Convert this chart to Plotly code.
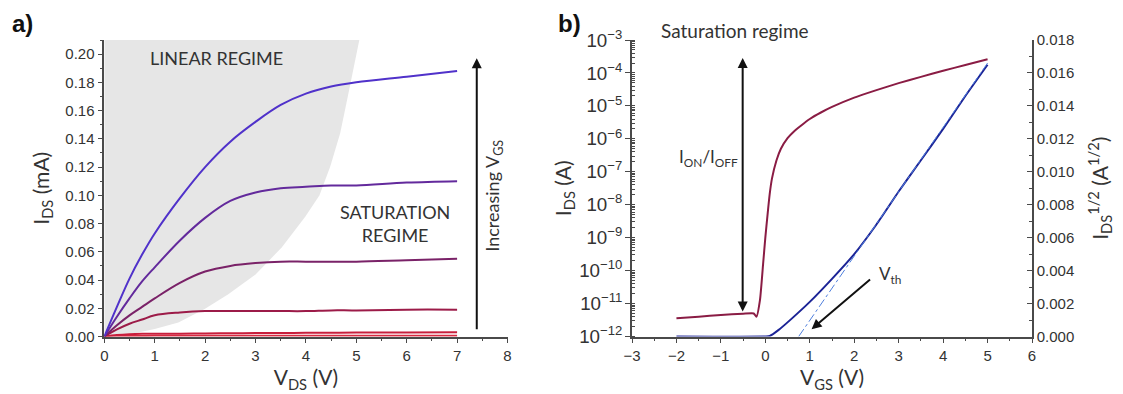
import plotly.graph_objects as go

# ---------------- Panel a: output characteristics ----------------
vds = [0, 0.25, 0.5, 0.75, 1.0, 1.5, 2.0, 2.5, 3.0, 3.5, 4.0, 4.5, 5.0, 6.0, 7.0]
ids_c1 = [0, 0.021, 0.041, 0.058, 0.073, 0.098, 0.120, 0.138, 0.152, 0.164, 0.172, 0.177, 0.180, 0.184, 0.188]
ids_c2 = [0, 0.014, 0.027, 0.039, 0.049, 0.068, 0.084, 0.096, 0.102, 0.105, 0.106, 0.107, 0.107, 0.109, 0.110]
ids_c3 = [0, 0.008, 0.015, 0.021, 0.027, 0.038, 0.046, 0.050, 0.052, 0.053, 0.053, 0.053, 0.053, 0.054, 0.055]
ids_c4 = [0, 0.005, 0.009, 0.012, 0.015, 0.017, 0.018, 0.018, 0.018, 0.018, 0.018, 0.0185, 0.0185, 0.019, 0.019]
ids_c5 = [0, 0.001, 0.0016, 0.0019, 0.002, 0.002, 0.0022, 0.0023, 0.0024, 0.0025, 0.0026, 0.0027, 0.0028, 0.0029, 0.003]
ids_c6 = [0, 0.0003, 0.0004, 0.0004, 0.0005, 0.0005, 0.0005, 0.0005, 0.0005, 0.0005, 0.0006, 0.0006, 0.0006, 0.0006, 0.0006]
curve_colors = ["#5032CA", "#632A9C", "#7A2268", "#9C1B48", "#C81E3C", "#D82A40"]

# boundary of the linear-regime region (VDS, IDS)
linear_edge_x = [0, 0.48, 1.0, 1.47, 2.0, 2.46, 3.0, 3.52, 3.99, 4.27, 4.48, 4.68, 4.82, 4.95, 5.06]
linear_edge_y = [0, 0.0014, 0.0054, 0.010, 0.0196, 0.030, 0.044, 0.063, 0.085, 0.10, 0.12, 0.144, 0.168, 0.19, 0.21]

# ---------------- Panel b: transfer characteristics ----------------
vgs_log = [-2.0, -1.5, -1.0, -0.5, -0.26, -0.2, -0.12, -0.05, 0.0, 0.05, 0.1, 0.15, 0.25, 0.35,
           0.5, 0.65, 0.8, 1.0, 1.25, 1.5, 2.0, 2.5, 3.0, 3.5, 4.0, 4.5, 5.0]
ids_log = [3.6e-12, 4.0e-12, 4.5e-12, 4.9e-12, 5.0e-12, 4.0e-12, 1.3e-11, 1.6e-10, 1.0e-9, 5.0e-9,
           2.2e-8, 6.3e-8, 2.2e-7, 5.0e-7, 1.05e-6, 1.7e-6, 2.5e-6, 4.0e-6, 6.3e-6, 9.3e-6,
           1.78e-5, 3.0e-5, 4.9e-5, 7.6e-5, 1.17e-4, 1.74e-4, 2.6e-4]

vgs_sqrt = [-2.0, 0.0, 0.1, 0.3, 0.6, 1.0, 1.5, 2.0, 2.5, 3.0, 3.5, 4.0, 4.5, 5.0]
ids_sqrt = [0, 0, 0.00003, 0.0004, 0.0011, 0.0021, 0.0035, 0.0050, 0.0068, 0.0088, 0.0107, 0.0126, 0.0146, 0.0165]

fit_vgs = [0.75, 5.0]
fit_sqrt = [0.0, 0.0166]

TICK_FONT = dict(family="Liberation Sans, Arial, sans-serif", size=15, color="#333333")
TITLE_FONT = dict(family="Lato, sans-serif", size=21, color="#333333")
TEXT_FONT = dict(family="Lato, sans-serif", size=17, color="#333333")
AXIS_COLOR = "#4a4a4a"

fig = go.Figure()

# shaded linear regime
fig.add_trace(go.Scatter(
    x=linear_edge_x + [0],
    y=linear_edge_y + [0.21],
    mode="lines", fill="toself", fillcolor="#E6E6E6",
    line=dict(width=0), hoverinfo="skip", xaxis="x", yaxis="y",
))

for ys, col in zip([ids_c6, ids_c5, ids_c4, ids_c3, ids_c2, ids_c1], curve_colors[::-1]):
    fig.add_trace(go.Scatter(x=vds, y=ys, mode="lines", line=dict(color=col, width=2, shape="spline"),
                             xaxis="x", yaxis="y"))

# transfer curves
fig.add_trace(go.Scatter(x=vgs_log, y=ids_log, mode="lines",
                         line=dict(color="#8A1C44", width=2, shape="spline", smoothing=0.5),
                         xaxis="x2", yaxis="y2"))
fig.add_trace(go.Scatter(x=vgs_sqrt, y=ids_sqrt, mode="lines",
                         line=dict(color="#1C2496", width=2, shape="spline", smoothing=0.6),
                         xaxis="x2", yaxis="y3"))
fig.add_trace(go.Scatter(x=fit_vgs, y=fit_sqrt, mode="lines",
                         line=dict(color="#4F7FDC", width=1, dash="dashdot"),
                         xaxis="x2", yaxis="y3"))

ya = [1 - 336.5 / 394, 1 - 40 / 394]

axis_common = dict(
    showline=True, linecolor=AXIS_COLOR, linewidth=1.5, ticks="outside", ticklen=5,
    tickcolor=AXIS_COLOR, tickwidth=1.2, tickfont=TICK_FONT, showgrid=False, zeroline=False,
    mirror=False, automargin=False,
)

fig.update_layout(
    width=1123, height=394, autosize=False,
    margin=dict(l=0, r=0, t=0, b=0),
    paper_bgcolor="white", plot_bgcolor="white",
    showlegend=False,
    xaxis=dict(domain=[104.3 / 1123, 507.5 / 1123], anchor="y", range=[0, 8], dtick=1, tick0=0,
               minor=dict(dtick=0.5, ticks="outside", ticklen=3, tickcolor=AXIS_COLOR),
               title=dict(text="V<sub>DS</sub> (V)", font=TITLE_FONT, standoff=6), **axis_common),
    yaxis=dict(domain=ya, anchor="x", range=[0, 0.21], dtick=0.02, tick0=0, tickformat=".2f",
               minor=dict(dtick=0.01, ticks="outside", ticklen=3, tickcolor=AXIS_COLOR),
               title=dict(text="I<sub>DS</sub> (mA)", font=TITLE_FONT, standoff=10), **axis_common),
    xaxis2=dict(domain=[632 / 1123, 1032 / 1123], anchor="y2", range=[-3, 6], dtick=1, tick0=0,
                minor=dict(dtick=0.5, ticks="outside", ticklen=3, tickcolor=AXIS_COLOR),
                title=dict(text="V<sub>GS</sub> (V)", font=TITLE_FONT, standoff=6), **axis_common),
    yaxis2=dict(domain=ya, anchor="x2", type="log", range=[-12, -3], dtick=1,
                exponentformat="power",
                minor=dict(ticks="inside", ticklen=3, tickcolor=AXIS_COLOR),
                title=dict(text="I<sub>DS</sub> (A)", font=TITLE_FONT, standoff=2), **axis_common),
    yaxis3=dict(domain=ya, anchor="x2", overlaying="y2", side="right", range=[0, 0.018],
                dtick=0.002, tick0=0, tickformat=".3f", automargin=False,
                showline=True, linecolor=AXIS_COLOR, linewidth=1.5, ticks="inside", ticklen=5,
                tickcolor=AXIS_COLOR, tickwidth=1.2, tickfont=TICK_FONT, showgrid=False,
                zeroline=False,
                minor=dict(dtick=0.001, ticks="inside", ticklen=3, tickcolor=AXIS_COLOR),
                title=dict(text="I<sub>DS</sub><sup>1/2</sup> (A<sup>1/2</sup>)", font=TITLE_FONT,
                           standoff=20)),
)

annotations = [
    # panel labels
    dict(text="<b>a)</b>", xref="paper", yref="paper", x=10 / 1123, y=1 - 8 / 394,
         xanchor="left", yanchor="top", showarrow=False,
         font=dict(family="Liberation Sans, Arial, sans-serif", size=24, color="#111111")),
    dict(text="<b>b)</b>", xref="paper", yref="paper", x=556 / 1123, y=1 - 8 / 394,
         xanchor="left", yanchor="top", showarrow=False,
         font=dict(family="Liberation Sans, Arial, sans-serif", size=24, color="#111111")),
    # panel a texts
    dict(text="LINEAR REGIME", x=2.23, y=0.197, xref="x", yref="y", showarrow=False,
         font=dict(family="Lato, sans-serif", size=18, color="#333333")),
    dict(text="SATURATION<br>REGIME", x=5.77, y=0.080, xref="x", yref="y", showarrow=False,
         font=dict(family="Lato, sans-serif", size=18, color="#333333")),
    dict(text="Increasing V<sub>GS</sub>", x=7.72, y=0.10, xref="x", yref="y", showarrow=False,
         textangle=-90, font=dict(family="Lato, sans-serif", size=18, color="#333333")),
    dict(text="", x=7.39, y=0.197, ax=7.39, ay=0.004, xref="x", yref="y", axref="x", ayref="y",
         showarrow=True, arrowhead=2, arrowsize=1, arrowwidth=2, arrowcolor="#111111"),
    # panel b texts
    dict(text="Saturation regime", xref="paper", yref="paper", x=735 / 1123, y=1 - 31 / 394,
         xanchor="center", yanchor="middle",
         showarrow=False, font=dict(family="Lato, sans-serif", size=19, color="#333333")),
    dict(text="I<sub>ON</sub>/I<sub>OFF</sub>", x=-1.27, y=-6.58, xref="x2", yref="y2",
         showarrow=False, font=TEXT_FONT),
    dict(text="", x=-0.51, y=-3.55, ax=-0.51, ay=-11.29, xref="x2", yref="y2", axref="x2", ayref="y2",
         showarrow=True, arrowhead=2, arrowside="end+start", arrowsize=1, arrowwidth=2,
         arrowcolor="#111111"),
    dict(text="V<sub>th</sub>", x=2.81, y=-10.13, xref="x2", yref="y2", showarrow=False, font=TEXT_FONT),
    dict(text="", x=1.04, y=-11.78, ax=2.39, ay=-10.23, xref="x2", yref="y2", axref="x2", ayref="y2",
         showarrow=True, arrowhead=2, arrowsize=1, arrowwidth=2, arrowcolor="#111111"),
]
fig.update_layout(annotations=annotations)

fig.write_html("out.html")
